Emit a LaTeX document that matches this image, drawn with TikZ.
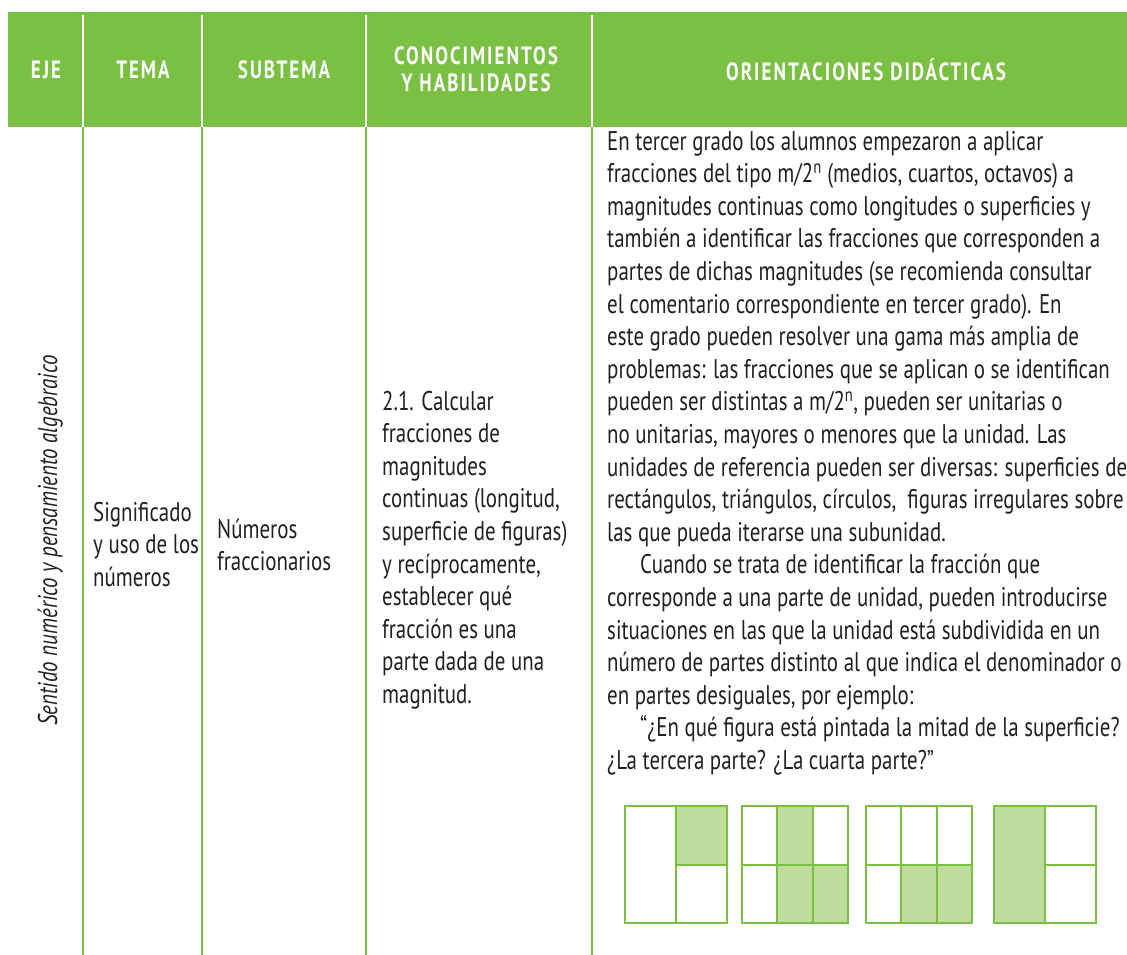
\documentclass[tikz,border=0pt]{standalone}
\usepackage{fontspec}
\setmainfont{PT Sans}[FakeStretch=0.775]
\newfontfamily\headfont{PT Sans}[FakeStretch=0.76,LetterSpace=8]
\usepackage{tikz}
\usetikzlibrary{positioning}

\definecolor{sepgreen}{RGB}{122,193,67}
\definecolor{lightgreen}{RGB}{190,220,156}
\definecolor{inkgray}{RGB}{35,31,32}

\newcommand{\bodysize}{\fontsize{27}{32.6}\selectfont}

\tikzset{
    headtxt/.style={text=white, font=\headfont\bfseries\fontsize{25}{27}\selectfont, align=center, inner sep=0pt},
    bodytxt/.style={text=inkgray, font=\bodysize, align=left, anchor=base west, inner sep=0pt},
    colline/.style={draw=sepgreen, line width=2pt},
    headline/.style={draw=white, line width=2pt},
    piece/.style={draw=sepgreen, line width=2pt},
    shaded/.style={piece, fill=lightgreen},
}

\begin{document}
\begin{tikzpicture}[x=1pt, y=-1pt]
    \useasboundingbox (0,0) rectangle (1127,955);

    % header band
    \fill[sepgreen] (8,12) rectangle (1127,127);
    \draw[headline] (83,15) -- (83,127);
    \draw[headline] (202,15) -- (202,127);
    \draw[headline] (366,15) -- (366,127);
    \draw[headline] (592,15) -- (592,127);

    \node[headtxt] (head_eje) at (46, 69.5) {EJE};
    \node[headtxt] (head_tema) at (143, 69.5) {TEMA};
    \node[headtxt] (head_subtema) at (284, 69.5) {SUBTEMA};
    \node[headtxt] (head_conoc) at (476, 69.5) {CONOCIMIENTOS\\Y HABILIDADES};
    \node[headtxt] (head_orient) at (866, 69.5) {ORIENTACIONES DIDÁCTICAS};

    % column rules
    \draw[colline] (83,127) -- (83,955);
    \draw[colline] (202,127) -- (202,955);
    \draw[colline] (366,127) -- (366,955);
    \draw[colline] (592,127) -- (592,955);

    % base of a multi-line node = baseline of its last line
    \node[bodytxt, rotate=90, anchor=base east, font=\bodysize\itshape] (body_eje) at (57, 355)
        {Sentido numérico y pensamiento algebraico};

    \node[bodytxt] (body_tema) at (93, 586.2)
        {Significado\\y uso de los\\números};

    \node[bodytxt] (body_subtema) at (217, 570.6)
        {Números\\fraccionarios};

    \node[bodytxt] (body_conoc) at (382, 703.4)
        {2.1. Calcular\\
        fracciones de\\
        magnitudes\\
        continuas (longitud,\\
        superficie de figuras)\\
        y recíprocamente,\\
        establecer qué\\
        fracción es una\\
        parte dada de una\\
        magnitud.};

    \node[bodytxt] (body_orient) at (607, 769.4)
        {En tercer grado los alumnos empezaron a aplicar\\
        fracciones del tipo m/2\textsuperscript{n} (medios, cuartos, octavos) a\\
        magnitudes continuas como longitudes o superficies y\\
        también a identificar las fracciones que corresponden a\\
        partes de dichas magnitudes (se recomienda consultar\\
        el comentario correspondiente en tercer grado). En\\
        este grado pueden resolver una gama más amplia de\\
        problemas: las fracciones que se aplican o se identifican\\
        pueden ser distintas a m/2\textsuperscript{n}, pueden ser unitarias o\\
        no unitarias, mayores o menores que la unidad. Las\\
        unidades de referencia pueden ser diversas: superficies de\\
        rectángulos, triángulos, círculos,\ \ figuras irregulares sobre\\
        las que pueda iterarse una subunidad.\\
        \hspace*{33pt}Cuando se trata de identificar la fracción que\\
        corresponde a una parte de unidad, pueden introducirse\\
        situaciones en las que la unidad está subdividida en un\\
        número de partes distinto al que indica el denominador o\\
        en partes desiguales, por ejemplo:\\
        \hspace*{33pt}“¿En qué figura está pintada la mitad de la superficie?\\
        ¿La tercera parte? ¿La cuarta parte?”};

    % fraction figures
    \draw[piece] (625,806) rectangle (676,923);
    \draw[shaded] (676,806) rectangle (727,864.5);
    \draw[piece] (676,864.5) rectangle (727,923);

    \draw[piece] (742,806) rectangle (777.3,864.5);
    \draw[shaded] (777.3,806) rectangle (812.7,864.5);
    \draw[piece] (812.7,806) rectangle (848,864.5);
    \draw[piece] (742,864.5) rectangle (777.3,923);
    \draw[shaded] (777.3,864.5) rectangle (812.7,923);
    \draw[shaded] (812.7,864.5) rectangle (848,923);

    \draw[piece] (866,806) rectangle (901.3,864.5);
    \draw[piece] (901.3,806) rectangle (936.7,864.5);
    \draw[piece] (936.7,806) rectangle (972,864.5);
    \draw[piece] (866,864.5) rectangle (901.3,923);
    \draw[shaded] (901.3,864.5) rectangle (936.7,923);
    \draw[shaded] (936.7,864.5) rectangle (972,923);

    \draw[shaded] (994,806) rectangle (1045,923);
    \draw[piece] (1045,806) rectangle (1096,864.5);
    \draw[piece] (1045,864.5) rectangle (1096,923);

\end{tikzpicture}
\end{document}
